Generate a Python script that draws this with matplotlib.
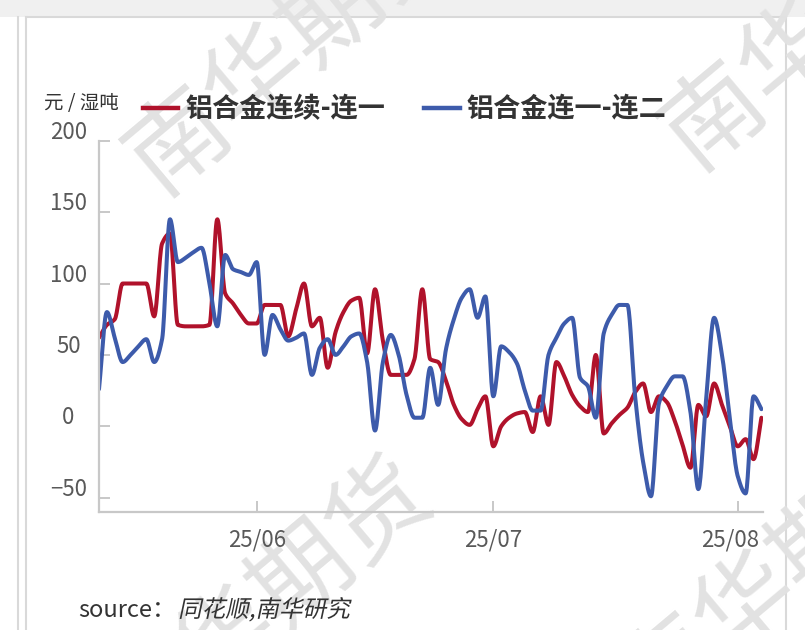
import numpy as np
import pandas as pd
import matplotlib
matplotlib.use("Agg")
import matplotlib.pyplot as plt
import matplotlib.dates as mdates
from matplotlib.lines import Line2D
from matplotlib.textpath import TextPath
from matplotlib.patches import PathPatch, Rectangle
from matplotlib.font_manager import FontProperties
from matplotlib.transforms import Affine2D, ScaledTranslation

plt.rcParams['font.family'] = ['Noto Sans CJK SC', 'DejaVu Sans']

# 数据（元/湿吨），按日读取
dates = pd.date_range("2025-05-12", "2025-08-04", freq="D")

spread_01 = [  # 铝合金连续-连一
    62, 71, 75, 100, 100, 100, 100, 77, 128, 135,
    71, 70, 70, 70, 71, 145, 93, 86, 78, 72,
    72, 85, 85, 85, 63, 82, 100, 70, 76, 41,
    66, 80, 88, 90, 51, 96, 60, 36, 36, 36,
    47, 96, 47, 45, 32, 15, 5, 1, 12, 21,
    -14, 0, 6, 9, 10, -4, 21, 1, 45, 35,
    22, 14, 10, 50, -5, 2, 8, 13, 24, 30,
    10, 21, 17, 4, -13, -29, 15, 7, 30, 15,
    0, -14, -9, -23, 6,
]
spread_12 = [  # 铝合金连一-连二
    26, 80, 62, 45, 50, 56, 61, 45, 61, 145,
    115, 118, 122, 125, 100, 70, 120, 110, 108, 106,
    115, 50, 78, 68, 60, 62, 65, 36, 55, 61,
    50, 56, 63, 65, 45, -3, 45, 64, 50, 22,
    6, 6, 41, 15, 54, 75, 90, 96, 76, 91,
    21, 56, 52, 44, 25, 11, 11, 50, 62, 72,
    76, 34, 28, 6, 65, 78, 85, 85, 20, -25,
    -49, 16, 28, 35, 35, 10, -44, 20, 76, 50,
    5, -35, -47, 21, 12,
]
labels = ['铝合金连续-连一', '铝合金连一-连二']
colors = ['#b0122b', '#3d5bab']
yticks = [-50, 0, 50, 100, 150, 200]
xtick_dates = ['2025-06-01', '2025-07-01', '2025-08-01']
xtick_labels = ['25/06', '25/07', '25/08']


def smooth(x, y, n=1500):
    # 单调三次插值，仅用于平滑绘制
    x = np.asarray(x, float)
    y = np.asarray(y, float)
    h = np.diff(x)
    delta = np.diff(y) / h
    d = np.zeros_like(y)
    for k in range(1, len(y) - 1):
        if delta[k - 1] * delta[k] > 0:
            w1 = 2 * h[k] + h[k - 1]
            w2 = h[k] + 2 * h[k - 1]
            d[k] = (w1 + w2) / (w1 / delta[k - 1] + w2 / delta[k])
    d[0] = delta[0]
    d[-1] = delta[-1]
    xs = np.linspace(x[0], x[-1], n)
    idx = np.clip(np.searchsorted(x, xs) - 1, 0, len(x) - 2)
    t = (xs - x[idx]) / h[idx]
    h00 = 2 * t**3 - 3 * t**2 + 1
    h10 = t**3 - 2 * t**2 + t
    h01 = -2 * t**3 + 3 * t**2
    h11 = t**3 - t**2
    ys = h00 * y[idx] + h10 * h[idx] * d[idx] + h01 * y[idx + 1] + h11 * h[idx] * d[idx + 1]
    return xs, ys


fig = plt.figure(figsize=(8.05, 6.3), dpi=100)

# 截图边框
fig.add_artist(Rectangle((0, 1 - 17 / 630), 1, 17 / 630, transform=fig.transFigure,
                         facecolor='#f0f0f0', edgecolor='none', zorder=-3))
for xp in [18, 26, 786]:
    fig.add_artist(Line2D([xp / 805] * 2, [0, 1 - 17 / 630], transform=fig.transFigure,
                          color='#d9d9d9', lw=1.5, zorder=-2))
fig.add_artist(Line2D([26 / 805, 786 / 805], [1 - 17 / 630] * 2, transform=fig.transFigure,
                      color='#d9d9d9', lw=1.5, zorder=-2))

# 水印
for cx, cy in [(295, 45), (830, 20), (265, 607), (785, 572)]:
    fig.text(cx / 805, 1 - cy / 630, '南华期货', fontsize=72, color='#e2e2e2',
             rotation=40, ha='center', va='center', rotation_mode='anchor', zorder=-1)

ax = fig.add_axes([99 / 805, 1 - 512 / 630, 664 / 805, (512 - 140.7) / 630])
ax.set_facecolor('none')

xnum = mdates.date2num(dates)
handles = []
for vals, c in zip([spread_01, spread_12], colors):
    xs, ys = smooth(xnum, vals)
    ax.plot(xs, ys, color=c, lw=2.9, solid_capstyle='round', solid_joinstyle='round')
    handles.append(Line2D([], [], color=c, lw=3.2))

ax.set_xlim(xnum[0], xnum[0] + 84.2)
ax.set_ylim(-60, 200)
ax.set_yticks(yticks)
ax.set_yticklabels([str(v).replace('-', '\u2212') for v in yticks])
ax.set_xticks(mdates.date2num(pd.to_datetime(xtick_dates)))
ax.set_xticklabels(xtick_labels)

for s in ['top', 'right']:
    ax.spines[s].set_visible(False)
for s in ['left', 'bottom']:
    ax.spines[s].set_color('#c8c8c8')
    ax.spines[s].set_linewidth(1.6)

ax.tick_params(axis='both', direction='in', length=8, width=1.4, color='#c8c8c8',
               labelsize=16, labelcolor='#595959')
ax.tick_params(axis='y', pad=22)
ax.tick_params(axis='x', pad=12)
up = ScaledTranslation(0, 11 / 100, fig.dpi_scale_trans)
for lab in ax.get_yticklabels():
    lab.set_ha('center')
    lab.set_transform(lab.get_transform() + up)
last = ax.get_xticklabels()[-1]
last.set_transform(last.get_transform() + ScaledTranslation(-8 / 100, 0, fig.dpi_scale_trans))

fig.text(44 / 805, 1 - 104 / 630, '元 / 湿吨', fontsize=14, color='#333333', va='center')

ax.legend(handles, labels, ncol=2, loc='center left', bbox_to_anchor=(143 / 805, 1 - 109 / 630),
          bbox_transform=fig.transFigure, frameon=False, prop={'size': 19.5, 'weight': 'bold'},
          labelcolor='#333333', handlelength=1.3, handletextpad=0.26, columnspacing=1.45,
          borderpad=0, borderaxespad=0)

fig.text(78 / 805, 0.13 / 6.3, 'source：', fontsize=17, color='#333333', va='baseline')
tp = TextPath((0, 0), '同花顺,南华研究', size=17, prop=FontProperties(family='Noto Sans CJK SC'))
tr = Affine2D().skew_deg(12, 0).scale(1 / 72).translate(1.78, 0.13) + fig.dpi_scale_trans
fig.add_artist(PathPatch(tp, transform=tr, facecolor='#333333', edgecolor='none'))

fig.savefig('out.png', dpi=100)
